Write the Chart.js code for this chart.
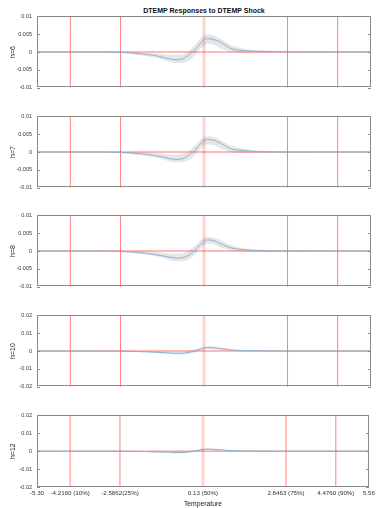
<!DOCTYPE html>
<html>
<head>
<meta charset="utf-8">
<script src="https://cdn.jsdelivr.net/npm/chart.js@4"></script>
<style>
  html, body { margin: 0; padding: 0; background: #fff; }
  #wrap { position: relative; width: 378px; height: 508px; overflow: hidden; }
  .panel { position: absolute; left: 0; width: 378px; }
  #title {
    position: absolute; left: 37px; width: 334px; top: 6px;
    text-align: center; font: bold 7px "Liberation Sans", Arial, sans-serif;
    line-height: 9px; color: #111;
  }
</style>
</head>
<body>
<div id="wrap">
  <div id="title">DTEMP Responses to DTEMP Shock</div>
</div>
<script>
// 온도 격자 (x 값)
const temps = [-5.30, -4.5, -3.5, -2.6, -2.2, -1.8, -1.4, -1.0, -0.75, -0.5, -0.3, -0.1,
               0.1, 0.25, 0.45, 0.7, 1.0, 1.4, 1.9, 2.6, 3.5, 4.5, 5.56];

// 분위수 (세로선)
const quantiles = [-4.216, -2.5862, 0.13, 2.8463, 4.476];

// x 눈금
const xTicks = [-5.30, -4.216, -2.5862, 0.13, 2.8463, 4.476, 5.56];
const xLabels = ['-5.30', '-4.2160 (10%)', '-2.5862(25%)', '0.13 (50%)', '2.8463 (75%)', '4.4760 (90%)', '5.56'];

// y 눈금
const yTicksSmall = [-0.01, -0.005, 0, 0.005, 0.01];
const yLabelsSmall = ['-0.01', '-0.005', '0', '0.005', '0.01'];
const yTicksLarge = [-0.02, -0.01, 0, 0.01, 0.02];
const yLabelsLarge = ['-0.02', '-0.01', '0', '0.01', '0.02'];

// 패널 라벨
const horizons = ['h=6', 'h=7', 'h=8', 'h=10', 'h=12'];

// 응답 (평균)
const h6Mean  = [0, 0, 0, -0.0001, -0.0003, -0.0006, -0.0011, -0.0019, -0.0022, -0.0016, -0.0004, 0.0012, 0.0033, 0.0037, 0.0035, 0.0026, 0.0010, 0.0004, 0.0002, 0.0001, 0, 0, 0];
const h7Mean  = [0, 0, 0, -0.0001, -0.0003, -0.0006, -0.0011, -0.0018, -0.0021, -0.0016, -0.0005, 0.0011, 0.0030, 0.0035, 0.0033, 0.0023, 0.0009, 0.0004, 0.0001, 0, 0, 0, 0];
const h8Mean  = [0, 0, 0, -0.0001, -0.0003, -0.0006, -0.0011, -0.0017, -0.0020, -0.0017, -0.0008, 0.0008, 0.0025, 0.0031, 0.0029, 0.0019, 0.0009, 0.0004, 0.0001, 0, 0, 0, 0];
const h10Mean = [0, 0, 0, -0.0001, -0.0002, -0.0004, -0.0007, -0.0011, -0.0013, -0.0011, -0.0006, 0.0004, 0.0015, 0.0019, 0.0018, 0.0012, 0.0006, 0.0002, 0.0001, 0, 0, 0, 0];
const h12Mean = [0, 0, 0, 0, -0.0001, -0.0002, -0.0004, -0.0006, -0.0008, -0.0007, -0.0004, 0.0002, 0.0009, 0.0011, 0.0010, 0.0007, 0.0003, 0.0001, 0, 0, 0, 0, 0];

// 신뢰구간 상단
const h6Upper  = [0.0001, 0.0001, 0.0001, 0.0001, 0, -0.0002, -0.0004, -0.0008, -0.0008, -0.0004, 0.0008, 0.0027, 0.0044, 0.0049, 0.0046, 0.0035, 0.0020, 0.0010, 0.0005, 0.0003, 0.0002, 0.0001, 0.0001];
const h7Upper  = [0.0001, 0.0001, 0.0001, 0.0001, 0, -0.0001, -0.0003, -0.0007, -0.0007, -0.0003, 0.0008, 0.0024, 0.0040, 0.0044, 0.0042, 0.0032, 0.0018, 0.0009, 0.0004, 0.0002, 0.0002, 0.0001, 0.0001];
const h8Upper  = [0.0001, 0.0001, 0.0001, 0.0001, 0, -0.0001, -0.0003, -0.0007, -0.0008, -0.0005, 0.0005, 0.0020, 0.0036, 0.0039, 0.0037, 0.0029, 0.0017, 0.0008, 0.0004, 0.0002, 0.0002, 0.0001, 0.0001];
const h10Upper = [0.0001, 0.0001, 0.0001, 0.0001, 0, -0.0001, -0.0002, -0.0004, -0.0005, -0.0003, 0.0003, 0.0012, 0.0023, 0.0027, 0.0026, 0.0019, 0.0011, 0.0005, 0.0003, 0.0002, 0.0001, 0.0001, 0.0001];
const h12Upper = [0.0001, 0.0001, 0.0001, 0.0001, 0, 0, -0.0001, -0.0002, -0.0003, -0.0002, 0.0001, 0.0007, 0.0014, 0.0016, 0.0015, 0.0011, 0.0006, 0.0003, 0.0002, 0.0001, 0.0001, 0.0001, 0.0001];

// 신뢰구간 하단
const h6Lower  = [-0.0001, -0.0001, -0.0001, -0.0003, -0.0006, -0.0011, -0.0017, -0.0027, -0.0031, -0.0029, -0.0020, -0.0002, 0.0016, 0.0023, 0.0020, 0.0009, 0, -0.0003, -0.0003, -0.0002, -0.0002, -0.0001, -0.0001];
const h7Lower  = [-0.0001, -0.0001, -0.0001, -0.0003, -0.0006, -0.0010, -0.0016, -0.0026, -0.0029, -0.0027, -0.0019, -0.0002, 0.0015, 0.0022, 0.0019, 0.0009, 0, -0.0003, -0.0003, -0.0002, -0.0002, -0.0001, -0.0001];
const h8Lower  = [-0.0001, -0.0001, -0.0001, -0.0003, -0.0005, -0.0009, -0.0015, -0.0025, -0.0029, -0.0027, -0.0020, -0.0005, 0.0013, 0.0021, 0.0019, 0.0009, 0.0001, -0.0002, -0.0003, -0.0002, -0.0002, -0.0001, -0.0001];
const h10Lower = [-0.0001, -0.0001, -0.0001, -0.0003, -0.0005, -0.0008, -0.0012, -0.0017, -0.0020, -0.0019, -0.0014, -0.0004, 0.0007, 0.0011, 0.0010, 0.0005, 0.0001, -0.0001, -0.0002, -0.0002, -0.0001, -0.0001, -0.0001];
const h12Lower = [-0.0001, -0.0001, -0.0001, -0.0002, -0.0003, -0.0005, -0.0008, -0.0011, -0.0013, -0.0012, -0.0009, -0.0003, 0.0004, 0.0006, 0.0005, 0.0003, 0, -0.0001, -0.0002, -0.0001, -0.0001, -0.0001, -0.0001];

const means = [h6Mean, h7Mean, h8Mean, h10Mean, h12Mean];
const uppers = [h6Upper, h7Upper, h8Upper, h10Upper, h12Upper];
const lowers = [h6Lower, h7Lower, h8Lower, h10Lower, h12Lower];

const FONT = '"Liberation Sans", Arial, sans-serif';
const panelTops = [16, 116, 215, 315, 415];
const PANEL_H = 72;
const PAD = 8;

// 상자 테두리와 안쪽 눈금
const framePlugin = {
    id: 'frame',
    afterDraw(chart) {
        const { ctx, chartArea: a } = chart;
        const y = chart.scales.y;
        ctx.save();
        ctx.strokeStyle = '#8a8a8a';
        ctx.lineWidth = 1;
        ctx.strokeRect(Math.round(a.left) + 0.5, Math.round(a.top) + 0.5,
                       Math.round(a.width) - 1, Math.round(a.height) - 1);
        y.ticks.forEach(t => {
            const py = Math.round(y.getPixelForValue(t.value)) + 0.5;
            ctx.beginPath();
            ctx.moveTo(a.left, py); ctx.lineTo(a.left + 3, py);
            ctx.moveTo(a.right - 3, py); ctx.lineTo(a.right, py);
            ctx.stroke();
        });
        ctx.restore();
    }
};

function pts(vals) {
    return temps.map((t, i) => ({ x: t, y: vals[i] }));
}

function makePanel(idx) {
    const isLast = idx === 4;
    const small = idx < 3;
    const yMax = small ? 0.01 : 0.02;
    const yTicks = small ? yTicksSmall : yTicksLarge;
    const yLabels = small ? yLabelsSmall : yLabelsLarge;

    const div = document.createElement('div');
    div.className = 'panel';
    const top = panelTops[idx] - PAD;
    const height = isLast ? 508 - top : PANEL_H + PAD * 2;
    div.style.top = top + 'px';
    div.style.height = height + 'px';
    const canvas = document.createElement('canvas');
    div.appendChild(canvas);
    document.getElementById('wrap').appendChild(div);

    const datasets = [
        {
            data: pts(uppers[idx]), fill: '+1', backgroundColor: 'rgba(200,200,200,0.45)',
            borderColor: 'transparent', borderWidth: 0, pointRadius: 0,
            cubicInterpolationMode: 'monotone', order: 3
        },
        {
            data: pts(lowers[idx]), fill: false, borderColor: 'transparent', borderWidth: 0,
            pointRadius: 0, cubicInterpolationMode: 'monotone', order: 3
        },
        {
            data: [{ x: -5.30, y: 0 }, { x: 5.56, y: 0 }], borderColor: 'rgba(255,0,0,0.55)',
            borderWidth: 1, pointRadius: 0, fill: false, order: 2
        }
    ];
    quantiles.forEach((q, i) => {
        const median = i === 2;
        datasets.push({
            data: [{ x: q, y: -yMax }, { x: q, y: yMax }],
            borderColor: median ? 'rgba(255,0,0,0.18)' : 'rgba(255,0,0,0.5)',
            borderWidth: median ? 3 : 1, pointRadius: 0, fill: false, order: 1
        });
    });
    datasets.push({
        data: pts(means[idx]), borderColor: 'rgb(140,178,212)', borderWidth: 1,
        pointRadius: 0, fill: false, cubicInterpolationMode: 'monotone', order: 0
    });

    const xScale = {
        type: 'linear', min: -5.30, max: 5.56,
        display: isLast,
        grid: { display: false, drawTicks: false },
        border: { display: false },
        afterBuildTicks: s => { s.ticks = xTicks.map(v => ({ value: v })); },
        ticks: {
            autoSkip: false, maxRotation: 0, padding: 3, color: '#333',
            font: { family: FONT, size: 6.2 },
            callback: (v, i) => xLabels[i]
        },
        title: {
            display: true, text: 'Temperature', color: '#222',
            font: { family: FONT, size: 6.8 }, padding: 0
        }
    };
    if (isLast) xScale.afterFit = s => { s.height = 21; };

    new Chart(canvas, {
        type: 'line',
        data: { datasets },
        plugins: [framePlugin],
        options: {
            responsive: true,
            maintainAspectRatio: false,
            animation: false,
            events: [],
            layout: { padding: { top: PAD, bottom: isLast ? 0 : PAD, left: 0, right: 7 } },
            plugins: { legend: { display: false }, tooltip: { enabled: false } },
            scales: {
                x: xScale,
                y: {
                    min: -yMax, max: yMax,
                    grid: { display: false, drawTicks: false },
                    border: { display: false },
                    afterBuildTicks: s => { s.ticks = yTicks.map(v => ({ value: v })); },
                    afterFit: s => { s.width = 37; },
                    ticks: {
                        padding: 5, color: '#333',
                        font: { family: FONT, size: 5.5 },
                        callback: (v, i) => yLabels[i]
                    },
                    title: {
                        display: true, text: horizons[idx], color: '#222',
                        font: { family: FONT, size: 7 }, padding: { top: 8.5, bottom: 0 }
                    }
                }
            }
        }
    });
}

for (let i = 0; i < 5; i++) makePanel(i);
</script>
</body>
</html>
